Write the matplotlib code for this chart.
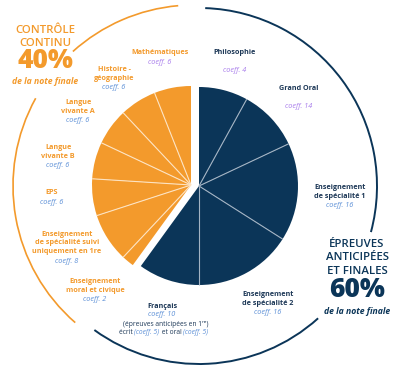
import numpy as np
import matplotlib
matplotlib.use("Agg")
import matplotlib.pyplot as plt
from matplotlib.patches import Arc

plt.rcParams['font.family'] = ['Open Sans', 'DejaVu Sans']

NAVY = "#0b3558"
ORANGE = "#f39a2c"
BLUE = "#5a8ed6"
PURPLE = "#a77beb"
NAVY_TXT = "#1d3857"

# wedge sizes (clockwise from 12 o'clock)
final_names = ["Philosophie", "Grand Oral", "Spécialité 1", "Spécialité 2", "Français"]
final_sizes = [8, 10, 16, 16, 10]
cc_names = ["EMC", "Spécialité 1re", "EPS", "LVB", "LVA", "Histoire-géo", "Maths"]
cc_sizes = [2, 8, 6, 6, 6, 6, 6]

# labels as printed
labels_final = [
    ("Philosophie", "coeff. 4", PURPLE, (235, 52)),
    ("Grand Oral", "coeff. 14", PURPLE, (299, 89)),
    ("Enseignement\nde spécialité 1", "coeff. 16", BLUE, (340, 192)),
    ("Enseignement\nde spécialité 2", "coeff. 16", BLUE, (268, 299)),
]
labels_cc = [
    ("Mathématiques", "coeff. 6", PURPLE, (160, 53)),
    ("Histoire -\ngéographie", "coeff. 6", BLUE, (114, 74)),
    ("Langue\nvivante A", "coeff. 6", BLUE, (78, 107)),
    ("Langue\nvivante B", "coeff. 6", BLUE, (58, 152)),
    ("EPS", "coeff. 6", BLUE, (52, 193)),
    ("Enseignement\nde spécialité suivi\nuniquement en 1re", "coeff. 8", BLUE, (67, 243)),
    ("Enseignement\nmoral et civique", "coeff. 2", BLUE, (95, 286)),
]

W, H = 409, 376
fig = plt.figure(figsize=(W / 100, H / 100), dpi=100)
ax = fig.add_axes([0, 0, 1, 1])

R = 99
c_final = (199, H - 186)
c_cc = (191, H - 185)
total = sum(final_sizes) + sum(cc_sizes)

# navy half: final exams + invisible remainder
w1, _ = ax.pie(final_sizes + [sum(cc_sizes)], colors=[NAVY] * len(final_sizes) + ["none"],
               startangle=90, counterclock=False, radius=R, center=c_final,
               wedgeprops=dict(linewidth=0))
# orange half, pulled out a little
w2, _ = ax.pie([sum(final_sizes)] + cc_sizes, colors=["none"] + [ORANGE] * len(cc_sizes),
               startangle=90, counterclock=False, radius=R, center=c_cc,
               wedgeprops=dict(linewidth=0))


def radial_lines(center, sizes, offset, color):
    cum = offset + np.cumsum(sizes)[:-1]
    for c in cum:
        a = np.deg2rad(90 - c / total * 360)
        ax.plot([center[0], center[0] + R * np.cos(a)], [center[1], center[1] + R * np.sin(a)],
                color=color, lw=0.8, solid_capstyle="butt")


radial_lines(c_final, final_sizes, 0, "#a3b3c3")
radial_lines(c_cc, cc_sizes, sum(final_sizes), "#fde3c2")

# outer arcs
for t1, t2 in [(-15, 88), (-126, -48)]:
    ax.add_patch(Arc(c_final, 2 * 178, 2 * 178, theta1=t1, theta2=t2, color=NAVY, lw=1.4))
for t1, t2 in [(151, 229), (95, 132)]:
    ax.add_patch(Arc((194, H - 186), 2 * 181, 2 * 181, theta1=t1, theta2=t2, color=ORANGE, lw=1.2))


def label(txt, coeff, ccol, pos, col):
    x, y = pos
    n = txt.count("\n") + 1
    ax.text(x, H - y, txt, ha="center", va="center", fontsize=5.2, fontweight="bold",
            color=col, linespacing=1.25)
    ax.text(x, H - (y + n * 4.6 + 4.6), coeff, ha="center", va="center", fontsize=5.2,
            style="italic", color=ccol)


for txt, coeff, ccol, pos in labels_final:
    if txt in ("Philosophie", "Grand Oral"):
        ax.text(pos[0], H - pos[1], txt, ha="center", va="center", fontsize=5.2,
                fontweight="bold", color=NAVY_TXT)
        ax.text(pos[0], H - pos[1] - 18, coeff, ha="center", va="center", fontsize=5.2,
                style="italic", color=ccol)
    else:
        label(txt, coeff, ccol, pos, NAVY_TXT)
for txt, coeff, ccol, pos in labels_cc:
    label(txt, coeff, ccol, pos, ORANGE)

# Français block
ax.text(162, H - 306, "Français", ha="center", va="center", fontsize=5.2, fontweight="bold", color=NAVY_TXT)
ax.text(162, H - 315, "coeff. 10", ha="center", va="center", fontsize=5.2, style="italic", color=BLUE)
ax.text(166, H - 324, "(épreuves anticipées en 1ʳᵉ)", ha="center", va="center", fontsize=4.8, color=NAVY_TXT)
parts = [("écrit ", NAVY_TXT, "normal"), ("(coeff. 5)", BLUE, "italic"),
         (" et oral ", NAVY_TXT, "normal"), ("(coeff. 5)", BLUE, "italic")]
t = ax.text(119, H - 333, parts[0][0], ha="left", va="center", fontsize=4.8, color=parts[0][1])
for s, col, st in parts[1:]:
    t = ax.annotate(s, xy=(1, 0), xycoords=t, ha="left", va="bottom", fontsize=4.8,
                    color=col, style=st)

# headers
ax.text(45, H - 37, "CONTRÔLE\nCONTINU", ha="center", va="center", fontsize=8.2, color=ORANGE,
        fontweight="semibold", linespacing=1.3)
ax.text(45, H - 61, "40%", ha="center", va="center", fontsize=19, fontweight="heavy", color=ORANGE)
ax.text(45, H - 82, "de la note finale", ha="center", va="center", fontsize=6.2,
        fontweight="bold", style="italic", color=ORANGE)

ax.text(357, H - 258, "ÉPREUVES\nANTICIPÉES\nET FINALES", ha="center", va="center", fontsize=8.2,
        color=NAVY, fontweight="semibold", linespacing=1.3)
ax.text(357, H - 290, "60%", ha="center", va="center", fontsize=19, fontweight="heavy", color=NAVY)
ax.text(357, H - 311, "de la note finale", ha="center", va="center", fontsize=6.2,
        fontweight="bold", style="italic", color=NAVY)

ax.set_xlim(0, W)
ax.set_ylim(0, H)
ax.set_aspect("equal")
ax.axis("off")
fig.savefig("out.png", dpi=100, facecolor="white")
